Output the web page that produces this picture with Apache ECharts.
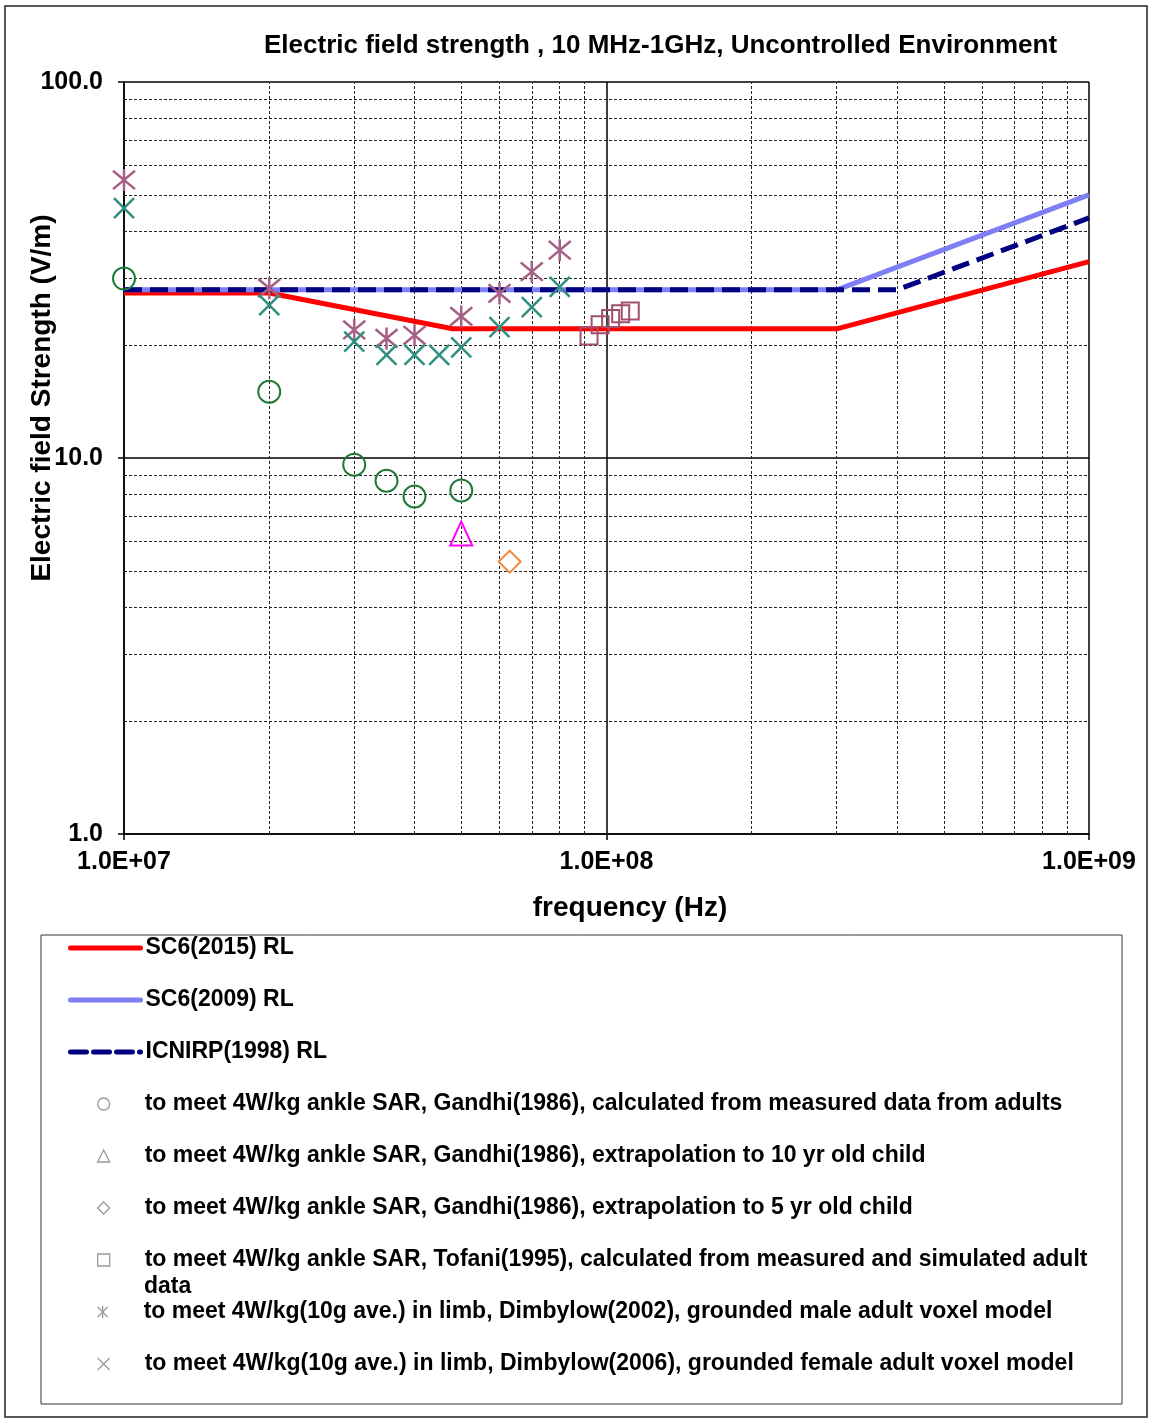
<!DOCTYPE html>
<html>
<head>
<meta charset="utf-8">
<script src="https://cdn.jsdelivr.net/npm/echarts@6/dist/echarts.min.js"></script>
<style>
html,body{margin:0;padding:0;background:#fff;}
#chart{width:1151px;height:1420px;}
</style>
</head>
<body>
<div id="chart"></div>
<script>
// ---- data (frequency in Hz, E-field in V/m) ----
const titleText = 'Electric field strength , 10 MHz-1GHz, Uncontrolled Environment';
const xName = 'frequency (Hz)';
const yName = 'Electric field Strength (V/m)';

const xTicks = [1e7, 1e8, 1e9];
const xTickLabels = ['1.0E+07', '1.0E+08', '1.0E+09'];
const yTicks = [1, 10, 100];
const yTickLabels = ['1.0', '10.0', '100.0'];

const minorX = [2e7,3e7,4e7,5e7,6e7,7e7,8e7,9e7,2e8,3e8,4e8,5e8,6e8,7e8,8e8,9e8];
const minorY = [2,3,4,5,6,7,8,9,20,30,40,50,60,70,80,90];

const seriesNames = [
  'SC6(2015) RL',
  'SC6(2009) RL',
  'ICNIRP(1998) RL',
  'to meet 4W/kg ankle SAR, Gandhi(1986), calculated from measured data from adults',
  'to meet 4W/kg ankle SAR, Gandhi(1986), extrapolation to 10 yr old child',
  'to meet 4W/kg ankle SAR, Gandhi(1986), extrapolation to 5 yr old child',
  'to meet 4W/kg ankle SAR, Tofani(1995), calculated from measured and simulated adult data',
  'to meet 4W/kg(10g ave.) in limb, Dimbylow(2002), grounded male adult voxel model',
  'to meet 4W/kg(10g ave.) in limb, Dimbylow(2006), grounded female adult voxel model'
];

const sc6_2015 = [[1e7,27.46],[2e7,27.46],[4.8e7,22.06],[3e8,22.06],[1e9,33.3]];
const sc6_2009 = [[1e7,28],[3e8,28],[1e9,50.1]];
const icnirp1998 = [[1e7,28],[4e8,28],[1e9,43.5]];
const gandhiAdults = [[1e7,30],[2e7,15],[3e7,9.6],[3.5e7,8.7],[4e7,7.9],[5e7,8.2]];
const gandhi10yr = [[5e7,6.3]];
const gandhi5yr = [[6.3e7,5.3]];
const tofani = [[9.2e7,21.1],[9.7e7,22.6],[1.02e8,23.5],[1.07e8,24.2],[1.12e8,24.6]];
const dimbylow2002 = [[1e7,54.9],[2e7,28.3],[3e7,21.9],[3.5e7,20.8],[4e7,21.2],[5e7,23.8],[6e7,27.4],[7e7,31.3],[8e7,35.7]];
const dimbylow2006 = [[1e7,46.2],[2e7,25.5],[3e7,20.4],[3.5e7,18.8],[4e7,18.8],[4.5e7,18.8],[5e7,19.7],[6e7,22.3],[7e7,25.2],[8e7,28.5]];

// ---- chart ----
const FONT = '"Liberation Sans", Arial, sans-serif';
function pickLabel(v, ticks, labels){
  for (let i = 0; i < ticks.length; i++) {
    if (Math.abs(Math.log10(v) - Math.log10(ticks[i])) < 0.01) return labels[i];
  }
  return '';
}
const ASTER = 'path://M0,0L20,20M0,20L20,0M10,-2L10,22';
const XMARK = 'path://M0,0L20,20M0,20L20,0';

const lineColors = ['#ff0000', '#7f7ff5', '#000080'];
const legendTops = [948,1000,1052,1104,1156,1208,1260,1312,1364];
const legendIcons = [null,null,null,'circle','triangle','diamond','rect',ASTER,XMARK];
const legendTextStyle = {fontSize:23, fontWeight:'bold', color:'#000', fontFamily:FONT, lineHeight:24};

const legends = seriesNames.map((name, i) => {
  const isLine = i < 3;
  const lg = {
    orient:'horizontal', top: legendTops[i] - 12, padding:0,
    selectedMode:false,
    textStyle: Object.assign({}, legendTextStyle),
  };
  if (isLine) {
    lg.left = 68; lg.itemWidth = 70; lg.itemHeight = 12;
    lg.data = [{name:name,
      itemStyle:{opacity:0, color:'rgba(0,0,0,0)', borderWidth:0},
      lineStyle:{width:5, color:lineColors[i], type: i === 2 ? [16,7] : 'solid', cap:'round'}}];
  } else {
    lg.left = 97; lg.itemWidth = 12; lg.itemHeight = 12;
    lg.textStyle.padding = [0,0,0,30];
    lg.data = [{name:name, icon:legendIcons[i],
      itemStyle:{color:'rgba(0,0,0,0)', borderColor:'#9a9a9a', borderWidth:1.3}}];
    if (i === 6) {
      lg.formatter = () => 'to meet 4W/kg ankle SAR, Tofani(1995), calculated from measured and simulated adult';
    }
  }
  return lg;
});

function scatter(name, data, symbol, size, color, bw){
  return {
    name, type:'scatter', data, symbol, symbolSize:size, clip:false, z:4,
    itemStyle:{color:'rgba(0,0,0,0)', borderColor:color, borderWidth:bw, opacity:1}
  };
}
function refLine(name, data, idx, type){
  return {
    name, type:'line', data, symbol:'none', clip:false, z:3,
    itemStyle:{color:lineColors[idx]},
    lineStyle:{color:lineColors[idx], width:5, type:type}
  };
}

const option = {
  animation:false,
  textStyle:{fontFamily:FONT},
  title:{
    text:titleText, left:264, top:33, padding:0,
    textStyle:{fontSize:26, fontWeight:'bold', color:'#000', fontFamily:FONT}
  },
  legend: legends,
  grid:{left:124, right:62, top:82, bottom:586, containLabel:false, outerBoundsMode:'none'},
  xAxis:{
    type:'log', logBase:10, min:1e7, max:1e9,
    name:xName, nameLocation:'middle', nameGap:60, nameMoveOverlap:false,
    nameTextStyle:{fontSize:28, fontWeight:'bold', color:'#000', padding:[0,0,0,47]},
    axisLine:{show:true, onZero:false, lineStyle:{color:'#000', width:1.5}},
    axisTick:{show:true, length:6, lineStyle:{color:'#000', width:1.5}},
    axisLabel:{fontSize:25, fontWeight:'bold', color:'#000', margin:16,
      formatter:(v)=>pickLabel(v, xTicks, xTickLabels)},
    splitLine:{show:true, lineStyle:{color:'#000', width:1.5}}
  },
  yAxis:{
    type:'log', logBase:10, min:1, max:100,
    name:yName, nameLocation:'middle', nameGap:68, nameRotate:90, nameMoveOverlap:false,
    nameTextStyle:{fontSize:28, fontWeight:'bold', color:'#000', padding:[0,0,0,120]},
    axisLine:{show:true, lineStyle:{color:'#000', width:1.5}},
    axisTick:{show:true, length:6, lineStyle:{color:'#000', width:1.5}},
    axisLabel:{fontSize:25, fontWeight:'bold', color:'#000', margin:21,
      formatter:(v)=>pickLabel(v, yTicks, yTickLabels)},
    splitLine:{show:true, lineStyle:{color:'#000', width:1.5}}
  },
  graphic:[
    {type:'rect', shape:{x:5, y:6, width:1142, height:1411}, silent:true,
      style:{fill:'none', stroke:'#222', lineWidth:1.5}},
    {type:'rect', shape:{x:41, y:935, width:1081, height:469}, silent:true,
      style:{fill:'none', stroke:'#333', lineWidth:1}},
    {type:'text', left:144, top:1275, silent:true,
      style:{text:'data', fontSize:23, fontWeight:'bold', fill:'#000', fontFamily:FONT}}
  ],
  series:[
    {
      name:'grid-minor', type:'line', data:[], silent:true, z:1,
      markLine:{
        silent:true, symbol:['none','none'], z:1, animation:false,
        label:{show:false},
        lineStyle:{color:'#222', width:1, type:[3,2]},
        data: minorX.map(v=>({xAxis:v})).concat(minorY.map(v=>({yAxis:v})))
      }
    },
    refLine(seriesNames[0], sc6_2015, 0, 'solid'),
    refLine(seriesNames[1], sc6_2009, 1, 'solid'),
    refLine(seriesNames[2], icnirp1998, 2, [18,8]),
    scatter(seriesNames[3], gandhiAdults, 'circle', 22, '#1f7a3a', 2),
    scatter(seriesNames[4], gandhi10yr, 'triangle', [22,24], '#ff00ff', 2),
    scatter(seriesNames[5], gandhi5yr, 'diamond', 22, '#f08a3c', 2),
    scatter(seriesNames[6], tofani, 'rect', 17, '#a0506e', 2),
    scatter(seriesNames[7], dimbylow2002, ASTER, 22, '#a65f86', 2.5),
    scatter(seriesNames[8], dimbylow2006, XMARK, 20, '#2f8f80', 2.5)
  ]
};

const chart = echarts.init(document.getElementById('chart'), null, {renderer:'canvas'});
chart.setOption(option);
</script>
</body>
</html>
